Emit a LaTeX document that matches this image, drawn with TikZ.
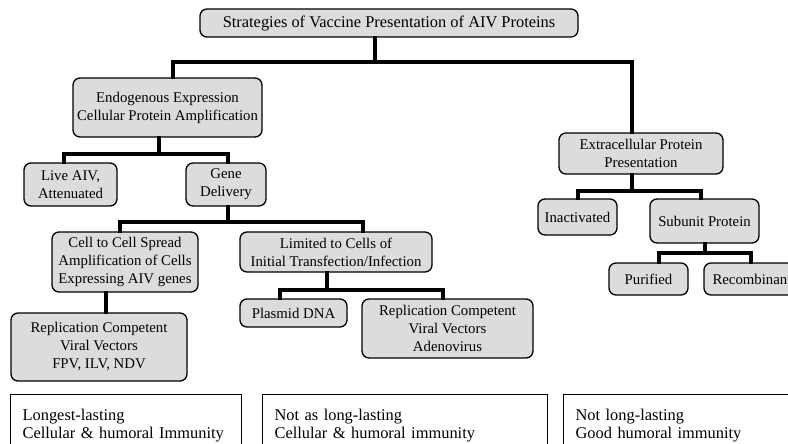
\documentclass[tikz,border=0pt]{standalone}
\usepackage{fontspec}
\setmainfont{Liberation Serif}
\definecolor{boxgray}{RGB}{220,220,220}
\newcommand{\bodyfont}{\fontsize{14.8}{18}\selectfont}
\newcommand{\bigfont}{\fontsize{16.4}{18}\selectfont}

\begin{document}
\begin{tikzpicture}[x=1pt,y=-1pt,
   box/.style={draw=black,fill=boxgray,line width=1.3pt,rounded corners=7pt,
     align=center,inner sep=1pt,font=\bodyfont},
   note/.style={draw=black,line width=1.2pt,align=left,anchor=north west,
     inner xsep=12pt,inner ysep=2pt,font=\bigfont},
   link/.style={line width=3.6pt,line cap=rect}]
   \fill[white] (0,0) rectangle (788,444);
   \useasboundingbox (0,0) rectangle (788,444);
   % tree of boxes
   \node[box,minimum width=378,minimum height=28,font=\bigfont] (top) at (389,23) {Strategies of Vaccine Presentation of AIV Proteins};
   \node[box,minimum width=189,minimum height=59] (endo)  at (167.5,107.5) {Endogenous Expression\\Cellular Protein Amplification};
   \node[box,minimum width=93,minimum height=43]  (live)  at (70.5,184.5) {Live AIV,\\Attenuated};
   \node[box,minimum width=80,minimum height=43]  (gene)  at (226,184.5)  {Gene\\Delivery};
   \node[box,minimum width=146,minimum height=60] (cell)  at (125,262)    {Cell to Cell Spread\\Amplification of Cells\\Expressing AIV genes};
   \node[box,minimum width=192,minimum height=40] (lim)   at (336,252)    {Limited to Cells of\\Initial Transfection/Infection};
   \node[box,minimum width=107,minimum height=28] (plasm) at (293.5,313)  {Plasmid DNA};
   \node[box,minimum width=171,minimum height=59] (repA)  at (447.5,328.5) {Replication Competent\\Viral Vectors\\Adenovirus};
   \node[box,minimum width=176,minimum height=68] (repF)  at (99,347)     {Replication Competent\\Viral Vectors\\FPV, ILV, NDV};
   \node[box,minimum width=164,minimum height=41] (extra) at (641,153.5)  {Extracellular Protein\\Presentation};
   \node[box,minimum width=79,minimum height=36]  (inact) at (577.5,217)  {Inactivated};
   \node[box,minimum width=109,minimum height=44] (subu)  at (704.5,221)  {Subunit Protein};
   \node[box,minimum width=79,minimum height=32]  (puri)  at (648.5,279)  {Purified};
   \node[box,minimum width=96,minimum height=32]  (recb)  at (752,279)    {Recombinant};
   % junctions
   \coordinate (j1) at (375,62);
   \coordinate (j2) at (159,154);
   \coordinate (j3) at (228,222);
   \coordinate (j4) at (327,290);
   \coordinate (j5) at (632,191);
   \coordinate (j6) at (705,253);
   \draw[link] (top.south -| j1) -- (j1);
   \draw[link] (endo.north -| 173,0) |- (j1) -| (extra.north -| 632,0);
   \draw[link] (endo.south -| j2) -- (j2);
   \draw[link] (live.north -| 64,0) |- (j2) -| (gene.north -| 228,0);
   \draw[link] (gene.south -| j3) -- (j3);
   \draw[link] (cell.north -| 120,0) |- (j3) -| (lim.north -| 363,0);
   \draw[link] (lim.south -| j4) -- (j4);
   \draw[link] (plasm.north -| 280,0) |- (j4) -| (repA.north -| 443,0);
   \draw[link] (cell.south -| 106,0) -- (repF.north -| 106,0);
   \draw[link] (extra.south -| j5) -- (j5);
   \draw[link] (inact.north -| 578,0) |- (j5) -| (subu.north -| 701,0);
   \draw[link] (subu.south -| j6) -- (j6);
   \draw[link] (puri.north -| 659,0) |- (j6) -| (recb.north -| 751,0);
   % notes at the bottom
   \node[note,text width=207,minimum height=62] (n1) at (10,394)  {Longest-lasting\\Cellular \& humoral Immunity};
   \node[note,text width=261,minimum height=62] (n2) at (262,394) {Not as long-lasting\\Cellular \& humoral immunity};
   \node[note,text width=226,minimum height=62] (n3) at (563,394) {Not long-lasting\\Good humoral immunity};
\end{tikzpicture}
\end{document}
